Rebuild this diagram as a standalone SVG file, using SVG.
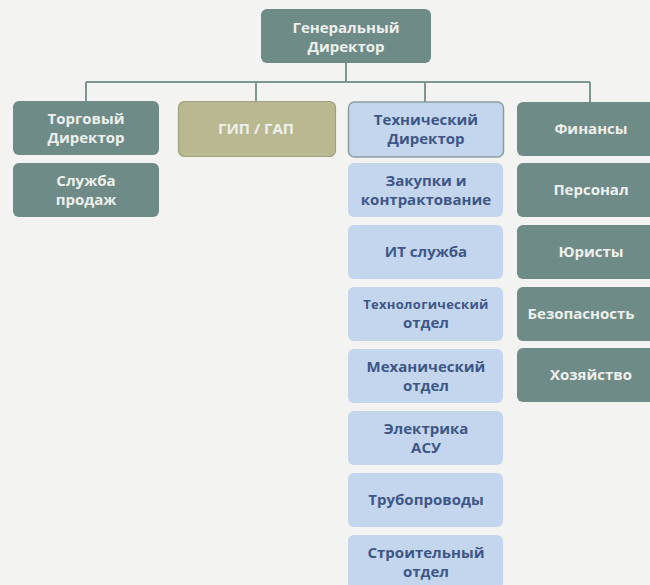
<svg xmlns="http://www.w3.org/2000/svg" width="650" height="585" viewBox="0 0 650 585">
<style>
.bg{fill:#f3f3f1}
.teal{fill:#6f8b87}
.olive{fill:#b9b891;stroke:#a0a07c;stroke-width:1.2}
.blue{fill:#c3d6ee}
.bluebd{fill:#c3d6ee;stroke:#8a9e9c;stroke-width:1.5}
text{font-family:"Open Sans","Noto Sans","DejaVu Sans",sans-serif;font-weight:700;text-anchor:middle}
.tw{fill:#edf0ec;font-size:15px}
.tb{fill:#3e5687;font-size:15px}
.ts{fill:#3e5687;font-size:13px;letter-spacing:0.3px}
.conn{stroke:#7d9793;stroke-width:2;fill:none}
</style>
<rect class="bg" x="0" y="0" width="650" height="585"/>
<g id="connectors">
<path class="conn" d="M346 63 V82 M86 82 H590 M86 82 V101 M256 82 V101 M425 82 V102 M590 82 V102"/>
</g>
<g id="gen"><rect class="teal" x="261" y="9" width="170" height="54" rx="6"/><text class="tw" x="346" y="33">Генеральный</text><text class="tw" x="346" y="52">Директор</text></g>
<g id="torg"><rect class="teal" x="13" y="101" width="146" height="54" rx="6"/><text class="tw" x="86" y="124">Торговый</text><text class="tw" x="86" y="143">Директор</text></g>
<g id="sales"><rect class="teal" x="13" y="163" width="146" height="54" rx="6"/><text class="tw" x="86" y="186">Служба</text><text class="tw" x="86" y="205">продаж</text></g>
<g id="gip"><rect class="olive" x="178.5" y="101.5" width="157" height="55" rx="6"/><text class="tw" x="256" y="134">ГИП / ГАП</text></g>
<g id="tech"><rect class="bluebd" x="348.5" y="102" width="155" height="55" rx="6"/><text class="tb" x="426" y="125">Технический</text><text class="tb" x="426" y="144">Директор</text></g>
<g id="zak"><rect class="blue" x="348" y="163" width="155" height="54" rx="6"/><text class="tb" x="426" y="186">Закупки и</text><text class="tb" x="426" y="205">контрактование</text></g>
<g id="it"><rect class="blue" x="348" y="225" width="155" height="54" rx="6"/><text class="tb" x="426" y="257">ИТ служба</text></g>
<g id="techno"><rect class="blue" x="348" y="287" width="155" height="54" rx="6"/><text class="ts" x="426" y="309">Технологический</text><text class="tb" x="426" y="328">отдел</text></g>
<g id="mech"><rect class="blue" x="348" y="349" width="155" height="54" rx="6"/><text class="tb" x="426" y="372">Механический</text><text class="tb" x="426" y="391">отдел</text></g>
<g id="elec"><rect class="blue" x="348" y="411" width="155" height="54" rx="6"/><text class="tb" x="426" y="434">Электрика</text><text class="tb" x="426" y="453">АСУ</text></g>
<g id="pipe"><rect class="blue" x="348" y="473" width="155" height="54" rx="6"/><text class="tb" x="426" y="505">Трубопроводы</text></g>
<g id="build"><rect class="blue" x="348" y="535" width="155" height="54" rx="6"/><text class="tb" x="426" y="558">Строительный</text><text class="tb" x="426" y="577">отдел</text></g>
<g id="fin"><rect class="teal" x="517" y="102" width="146" height="54" rx="6"/><text class="tw" x="591" y="134">Финансы</text></g>
<g id="pers"><rect class="teal" x="517" y="163" width="146" height="54" rx="6"/><text class="tw" x="591" y="195">Персонал</text></g>
<g id="law"><rect class="teal" x="517" y="225" width="146" height="54" rx="6"/><text class="tw" x="591" y="257">Юристы</text></g>
<g id="sec"><rect class="teal" x="517" y="287" width="146" height="54" rx="6"/><text class="tw" x="581" y="319">Безопасность</text></g>
<g id="house"><rect class="teal" x="517" y="348" width="146" height="54" rx="6"/><text class="tw" x="591" y="380">Хозяйство</text></g>
</svg>
